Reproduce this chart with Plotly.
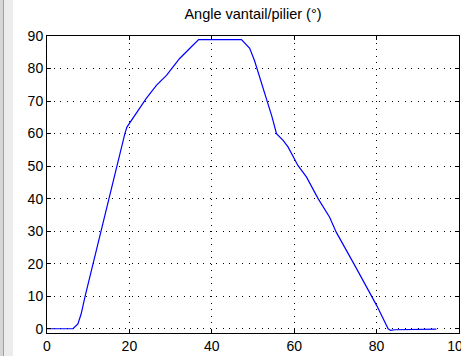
import plotly.graph_objects as go

# Opening angle of the gate leaf relative to the pillar over time
t = [0, 6.3, 7.5, 8.3, 9.2, 11.2, 13.2, 15.2, 16.8, 18.1, 18.9, 19.4, 21.7, 23.3,
     24.1, 26.6, 29.0, 30.6, 32.2, 34.5, 36.8, 47.2, 49.2, 50.4, 51.6, 52.6, 53.6,
     54.6, 55.7, 57.3, 58.5, 59.7, 60.9, 63.0, 65.8, 68.6, 70.2, 74.7, 79.1, 80.0,
     82.8, 83.4, 84.4, 94.5]
angle = [0, 0, 1.5, 4.6, 9.7, 20, 30.2, 40.5, 49.7, 55.9, 60, 62, 66.2, 69.2,
         70.8, 74.9, 77.9, 80.5, 83.1, 86, 88.9, 88.9, 86.2, 82.3, 77.6, 73.5, 69.4,
         65.2, 60, 57.9, 55.9, 52.8, 50.2, 46.6, 40, 34.3, 29.7, 19.5, 9.2, 7.2,
         0, -0.5, -0.3, -0.1]

x_ticks = [0, 20, 40, 60, 80, 100]
y_ticks = [0, 10, 20, 30, 40, 50, 60, 70, 80, 90]
title = "Angle vantail/pilier (°)"

W, H = 461, 356
L, R, T, B = 47, 2, 36, 23
plot_w = W - L - R


def px_to_paper(p):
    return (p - L) / plot_w


fig = go.Figure()
fig.add_trace(go.Scatter(x=t, y=angle, mode="lines",
                         line=dict(color="#0000ff", width=1.2),
                         hoverinfo="skip", showlegend=False))

axis_common = dict(
    showline=True, linecolor="black", linewidth=1, mirror="ticks",
    ticks="inside", ticklen=4, tickcolor="black", tickwidth=1,
    showgrid=True, gridcolor="black", gridwidth=1, griddash="1px,5.5px",
    zeroline=False, ticklabeloverflow="allow", automargin=False,
    tickfont=dict(family="Liberation Sans, Arial, sans-serif", size=14, color="black"),
)

fig.update_xaxes(range=[0, 100], tickvals=x_ticks, **axis_common)
fig.update_yaxes(range=[-1.3, 90], tickvals=y_ticks, **axis_common)

# window frame strip on the left edge
fig.add_shape(type="rect", xref="paper", yref="paper",
              x0=px_to_paper(0), x1=px_to_paper(13), y0=-1, y1=2,
              fillcolor="#ececec", line_width=0, layer="below")
fig.add_shape(type="rect", xref="paper", yref="paper",
              x0=px_to_paper(0), x1=px_to_paper(3), y0=-1, y1=2,
              fillcolor="#d6d6d6", line_width=0, layer="below")
fig.add_shape(type="line", xref="paper", yref="paper",
              x0=px_to_paper(3.5), x1=px_to_paper(3.5), y0=-1, y1=2,
              line=dict(color="#a0a0a0", width=1), layer="below")

fig.update_layout(
    width=W, height=H,
    margin=dict(l=L, r=R, t=T, b=B, autoexpand=False),
    paper_bgcolor="white", plot_bgcolor="white",
    title=dict(text=title, x=0.5, xanchor="center", xref="paper",
               y=1 - 14 / H, yanchor="middle",
               font=dict(family="Liberation Sans, Arial, sans-serif", size=14.5, color="black")),
)

fig.write_html("out.html")
